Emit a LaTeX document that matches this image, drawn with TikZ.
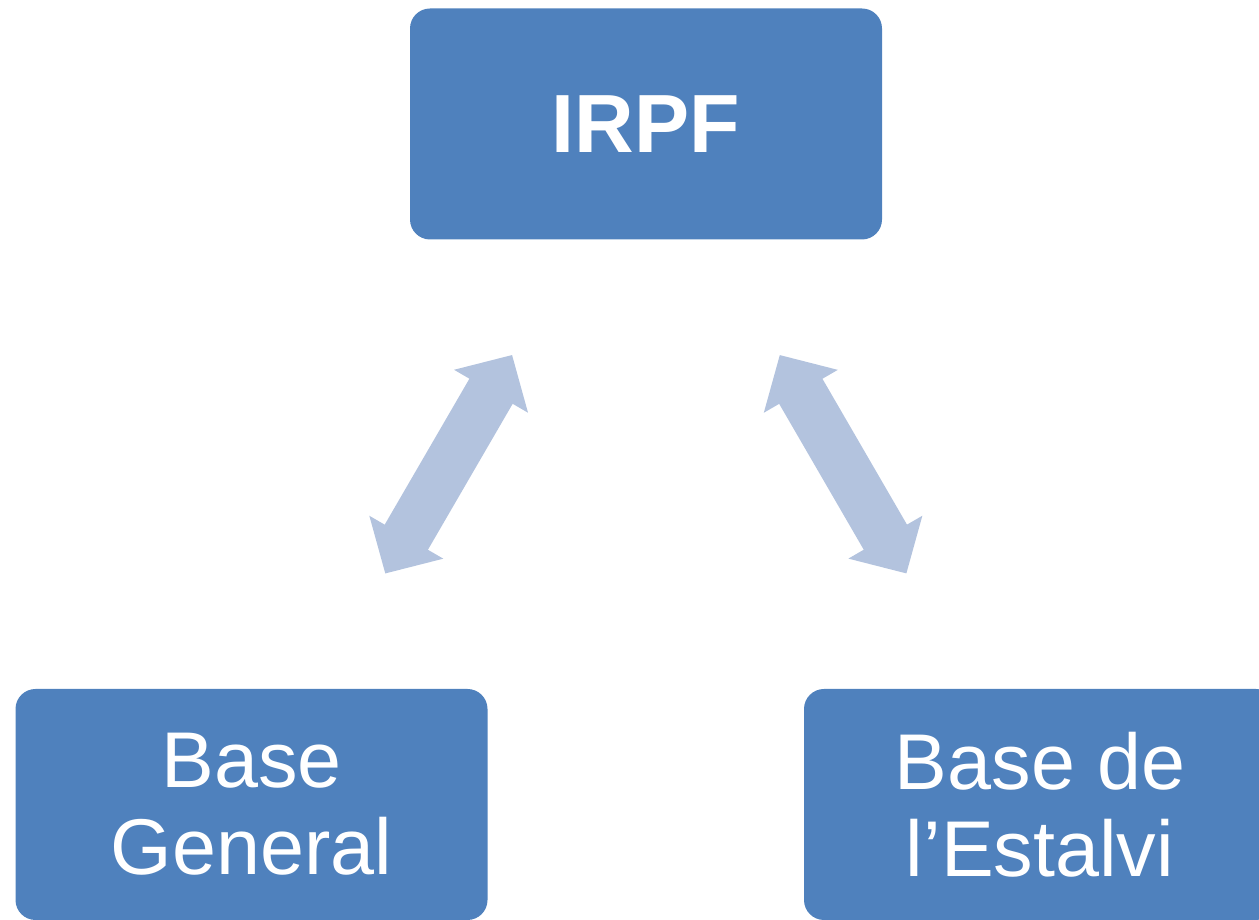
\documentclass[tikz,border=0pt]{standalone}
\usepackage{fontspec}
\setmainfont{Liberation Sans}
\usepackage{tikz}
\usetikzlibrary{arrows.meta}
\definecolor{boxblue}{RGB}{79,129,189}
\definecolor{arrowblue}{RGB}{179,195,222}

\begin{document}
\begin{tikzpicture}[every node/.style={rectangle,rounded corners=0.4cm,fill=boxblue,text=white,
    minimum width=9.44cm,minimum height=4.62cm,inner sep=0pt,outer sep=0pt,align=center,
    font=\fontsize{45}{49.5}\selectfont},
  link/.style={arrowblue,line width=1cm,shorten <=2.67cm,shorten >=2.67cm,
    {Triangle[width=1.66cm,length=0.84cm]}-{Triangle[width=1.66cm,length=0.84cm]}}]
  \useasboundingbox (0,0) rectangle (25.18,18.4);
  \node (irpf) at (12.92,15.92) {\fontsize{47}{50}\selectfont\bfseries IRPF};
  \node (gen)  at (5.03,2.31)   {Base\\General};
  \node (est)  at (20.80,2.31)  {Base de\\l’Estalvi};

  \foreach \from/\to in {gen/irpf,est/irpf}
    \draw[link] (\from) -- (\to);

\end{tikzpicture}
\end{document}
